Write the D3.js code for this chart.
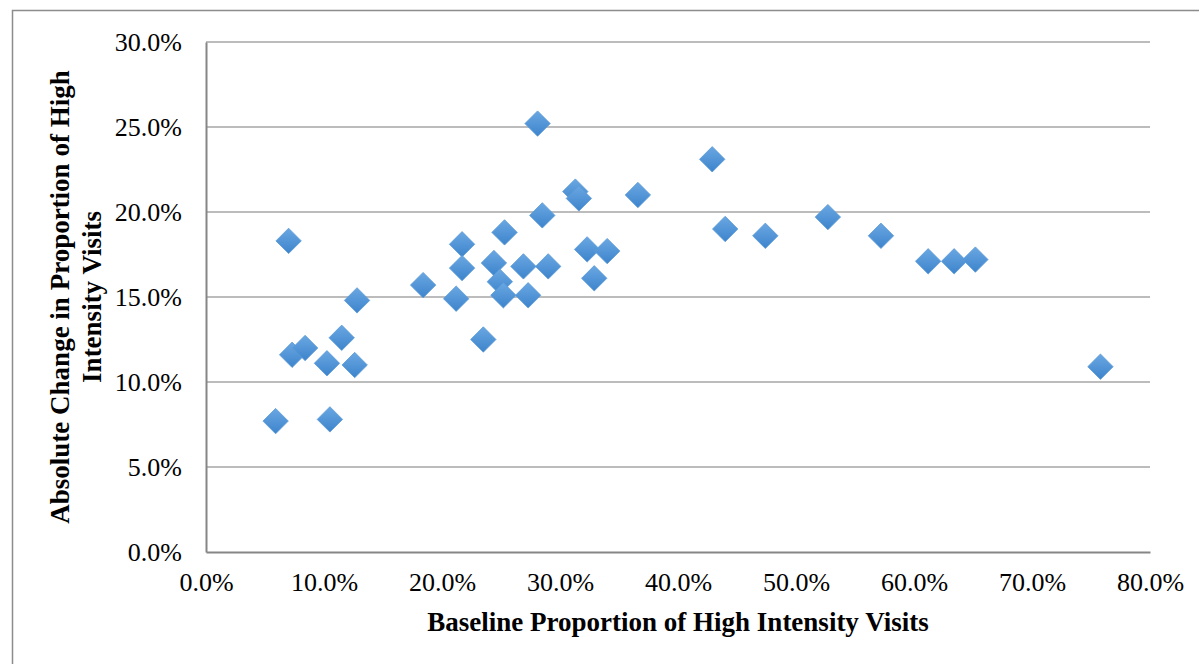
<!DOCTYPE html>
<html>
<head>
<meta charset="utf-8">
<script src="https://cdn.jsdelivr.net/npm/d3@7"></script>
<style>
  html, body { margin: 0; padding: 0; background: #fff; }
  svg { display: block; }
  text { font-family: "Liberation Serif", "Times New Roman", serif; fill: #000; }
</style>
</head>
<body>
<svg id="chart" width="1199" height="664"></svg>
<script>
// Baseline proportion of high intensity visits (%)
const baseline = [
  5.9, 7.0, 7.3, 8.4, 10.25, 10.5, 11.5, 12.6, 12.8, 18.4,
  21.2, 21.7, 21.7, 23.5, 24.4, 24.9, 25.2, 25.3, 26.9, 27.3,
  28.1, 28.5, 29.0, 31.3, 31.6, 32.3, 32.9, 34.0, 36.6, 42.9,
  44.0, 47.4, 52.7, 57.2, 61.2, 63.4, 65.2, 75.8
];
// Absolute change in proportion of high intensity visits (%)
const change = [
  7.7, 18.3, 11.6, 12.0, 11.1, 7.8, 12.6, 11.0, 14.8, 15.7,
  14.9, 18.1, 16.7, 12.5, 17.0, 15.9, 15.1, 18.8, 16.8, 15.1,
  25.2, 19.8, 16.8, 21.2, 20.8, 17.8, 16.1, 17.7, 21.0, 23.1,
  19.0, 18.6, 19.7, 18.6, 17.1, 17.1, 17.2, 10.9
];
const xTicks = [0, 10, 20, 30, 40, 50, 60, 70, 80];
const yTicks = [0, 5, 10, 15, 20, 25, 30];
const xTitle = "Baseline Proportion of High Intensity Visits";
const yTitleLines = ["Absolute Change in Proportion of High", "Intensity Visits"];

const svg = d3.select("#chart");
const plotLeft = 206, plotRight = 1150, plotTop = 42, plotBottom = 552;
const tickFont = 26, titleFont = 27;

// Outer chart frame
svg.append("rect")
  .attr("x", 12.5).attr("y", 10.5)
  .attr("width", 1300).attr("height", 800)
  .attr("fill", "none").attr("stroke", "#8c8c8c").attr("stroke-width", 1.5);

const x = d3.scaleLinear().domain([0, 80]).range([plotLeft, plotRight]);
const y = d3.scaleLinear().domain([0, 30]).range([plotBottom, plotTop]);

const fmt = d => d3.format(".1f")(d) + "%";

// Horizontal gridlines
svg.append("g").selectAll("line")
  .data(yTicks.filter(d => d > 0))
  .join("line")
  .attr("x1", plotLeft).attr("x2", plotRight)
  .attr("y1", d => y(d)).attr("y2", d => y(d))
  .attr("stroke", "#a6a6a6").attr("stroke-width", 1.5);

// Y axis
const yAxis = svg.append("g")
  .attr("transform", `translate(${plotLeft},0)`)
  .call(d3.axisLeft(y).tickValues(yTicks).tickFormat(fmt).tickSize(0).tickPadding(24));
yAxis.select(".domain").attr("stroke", "#868686").attr("stroke-width", 2);
yAxis.selectAll("text").attr("font-size", tickFont).attr("font-family", "Liberation Serif");

// X axis
const xAxis = svg.append("g")
  .attr("transform", `translate(0,${plotBottom})`)
  .call(d3.axisBottom(x).tickValues(xTicks).tickFormat(fmt).tickSize(0).tickPadding(21));
xAxis.select(".domain").attr("stroke", "#868686").attr("stroke-width", 2);
xAxis.selectAll("text").attr("font-size", tickFont).attr("font-family", "Liberation Serif");

// Marker fill
const defs = svg.append("defs");
const grad = defs.append("linearGradient")
  .attr("id", "mk").attr("x1", 0).attr("y1", 0).attr("x2", 0).attr("y2", 1);
grad.append("stop").attr("offset", "0%").attr("stop-color", "#6aa7e2");
grad.append("stop").attr("offset", "100%").attr("stop-color", "#3d84cc");

// Diamond markers
const s = 12.7;
const diamond = `M0,${-s}L${s},0L0,${s}L${-s},0Z`;
svg.append("g").selectAll("path")
  .data(d3.range(baseline.length))
  .join("path")
  .attr("d", diamond)
  .attr("transform", i => `translate(${x(baseline[i])},${y(change[i])})`)
  .attr("fill", "url(#mk)")
  .attr("stroke", "#5b9bd5").attr("stroke-width", 0.8);

// Axis titles
svg.append("text")
  .attr("x", (plotLeft + plotRight) / 2).attr("y", 631)
  .attr("text-anchor", "middle")
  .attr("font-size", titleFont).attr("font-weight", "bold")
  .text(xTitle);

const yt = svg.append("text")
  .attr("transform", `translate(69,${(plotTop + plotBottom) / 2}) rotate(-90)`)
  .attr("text-anchor", "middle")
  .attr("font-size", titleFont).attr("font-weight", "bold");
yTitleLines.forEach((t, i) => {
  yt.append("tspan").attr("x", 0).attr("dy", i === 0 ? 0 : 32).text(t);
});
</script>
</body>
</html>
